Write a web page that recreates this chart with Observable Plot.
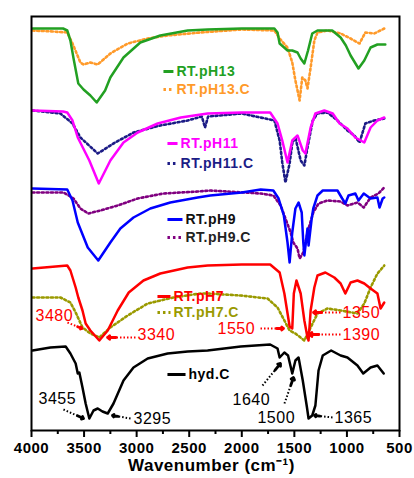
<!DOCTYPE html>
<html><head><meta charset="utf-8">
<script src="https://cdn.jsdelivr.net/npm/d3@7"></script>
<script src="https://cdn.jsdelivr.net/npm/@observablehq/plot@0.6"></script>
<style>body{margin:0;background:#fff} svg text{letter-spacing:0.5px}</style>
</head><body><div id="chart"></div><script>
// Spectra: [wavenumber (cm-1), signal (offset a.u.)]
const pH13 = [[3990,402],[3700,402],[3660,400],[3630,390],[3600,372],[3555,347],[3505,341],[3440,335],[3380,328],[3300,340],[3250,353],[3125,373],[2965,388],[2775,395],[2515,400],[2325,401],[2000,402],[1690,402],[1660,398],[1640,387],[1565,380],[1520,380],[1470,378],[1440,372],[1405,367],[1370,380],[1330,397],[1280,400],[1140,400],[1060,393],[1010,385],[965,375],[890,362],[835,370],[775,383],[710,386],[635,386]];
const pH13C = [[3990,400],[3800,399],[3660,398],[3610,387],[3535,368],[3505,366],[3440,368],[3370,366],[3250,377],[3085,387],[2895,392],[2705,395],[2395,398],[2000,401],[1690,400],[1640,392],[1565,383],[1520,368],[1490,350],[1450,330],[1425,353],[1395,350],[1375,342],[1345,363],[1310,390],[1280,398],[1185,400],[1060,397],[965,392],[880,387],[825,398],[740,397],[645,402]];
const pH11 = [[3990,320],[3700,319],[3660,318],[3610,310],[3560,293],[3450,270],[3360,247],[3250,270],[3125,288],[2990,298],[2800,307],[2580,313],[2325,317],[2000,318],[1730,318],[1660,307],[1615,290],[1565,268],[1520,290],[1470,295],[1420,280],[1395,277],[1345,303],[1300,317],[1215,320],[1135,317],[1070,307],[995,302],[920,293],[835,288],[775,303],[710,310],[645,313]];
const pH11C = [[3990,320],[3725,317],[3610,307],[3535,293],[3370,277],[3220,287],[3030,298],[2775,305],[2515,310],[2380,314],[2350,303],[2320,314],[2000,317],[1690,310],[1640,290],[1615,268],[1585,248],[1545,267],[1520,287],[1490,293],[1440,270],[1405,265],[1375,283],[1325,310],[1280,317],[1185,318],[1090,310],[995,300],[930,295],[880,288],[825,307],[740,310],[645,312]];
const pH9 = [[3990,242],[3660,241],[3610,230],[3560,208],[3465,183],[3365,170],[3250,188],[3155,202],[3030,213],[2870,222],[2680,228],[2420,233],[2300,235],[2000,238],[1820,241],[1700,240],[1650,232],[1600,215],[1565,188],[1545,168],[1520,198],[1490,222],[1460,228],[1430,218],[1415,188],[1405,175],[1375,202],[1365,185],[1335,212],[1320,222],[1280,235],[1230,240],[1090,240],[1045,232],[1015,227],[985,235],[920,237],[890,230],[840,237],[775,232],[710,233],[690,223],[660,232],[645,233]];
const pH9C = [[3990,238],[3695,238],[3600,232],[3535,222],[3460,217],[3345,220],[3180,225],[2990,232],[2745,237],[2420,239],[2300,240],[1820,237],[1700,235],[1630,225],[1585,212],[1535,198],[1510,188],[1470,182],[1450,172],[1415,178],[1395,188],[1365,202],[1320,218],[1270,227],[1185,230],[1060,229],[995,225],[900,228],[840,223],[775,233],[700,237],[645,243]];
const pH7 = [[3990,162],[3660,165],[3630,160],[3580,143],[3555,133],[3515,120],[3485,107],[3440,100],[3355,90],[3275,100],[3180,120],[3075,138],[2935,150],[2775,157],[2515,163],[2325,165],[2000,166],[1730,166],[1640,158],[1595,137],[1545,104],[1520,102],[1505,137],[1480,150],[1440,137],[1405,110],[1375,93],[1365,90],[1345,120],[1310,143],[1280,155],[1205,158],[1120,153],[1060,147],[1015,137],[965,148],[900,150],[835,147],[775,142],[710,137],[680,122],[645,128]];
const pH7C = [[3990,133],[3725,133],[3630,128],[3580,118],[3515,103],[3440,97],[3355,93],[3250,103],[3085,115],[2895,127],[2650,133],[2395,137],[2325,137],[2010,135],[1755,132],[1660,123],[1595,110],[1545,100],[1490,97],[1405,90],[1345,103],[1280,117],[1185,122],[1060,120],[900,117],[835,127],[775,143],[710,157],[645,165]];
const hydC = [[3990,80],[3820,83],[3675,84],[3630,77],[3580,67],[3560,57],[3545,58],[3515,43],[3485,27],[3450,12],[3410,20],[3370,22],[3325,19],[3275,17],[3220,27],[3125,50],[3030,63],[2895,72],[2705,77],[2515,79],[2325,80],[2010,84],[1730,86],[1660,82],[1640,73],[1595,78],[1560,75],[1520,57],[1490,70],[1460,73],[1420,50],[1380,23],[1365,12],[1330,15],[1300,25],[1270,60],[1230,75],[1150,80],[1060,75],[995,73],[900,65],[845,57],[775,63],[710,65],[650,57]];

// Series styling info
const seriesData = [pH13C, pH13, pH11C, pH11, pH9C, pH9, pH7C, pH7, hydC];
const seriesNames = ["RT.pH13.C","RT.pH13","RT.pH11.C","RT.pH11","RT.pH9.C","RT.pH9","RT.pH7.C","RT.pH7","hyd.C"];
const seriesColors = ["#ff9a2a","#22a022","#1c1c86","#ff00ff","#800080","#0000ff","#9a9a00","#ff0000","#000000"];
const seriesDotted = [true,false,true,false,true,false,true,false,false];
const legendTextColors = ["#ff9a2a","#22a022","#1c1c86","#ff00ff","#222222","#111111","#9a9a00","#ff0000","#000000"];
// legend positions: [wn start, wn end, signal]
const legendPos = [[2745,2650,341],[2745,2650,359],[2707,2611,267],[2707,2611,287],[2707,2564,193],[2707,2564,211],[2802,2678,118],[2802,2678,134],[2707,2535,56]];

// Peak annotations: label, text anchor [wn, signal], arrow from [wn, signal] to [wn, signal], color
const annLabels = ["3480","3340","1550","1350","1390","3455","3295","1640","1500","1365"];
const annText = [[3962,115],[2992,96],[2231,102],[1042,118],[1042,96],[3933,32],[3030,12],[2088,31],[1851,13],[1118,13]];
const annFrom = [[3658,108],[3011,93],[1822,102],[1061,118],[1061,96],[3696,21],[3058,12],[1803,45],[1594,27],[1137,13]];
const annTo = [[3520,102],[3277,93],[1603,102],[1318,118],[1356,96],[3505,12],[3230,15],[1632,67],[1508,53],[1308,15]];
const annColors = ["#ff0000","#ff0000","#ff0000","#ff0000","#ff0000","#000","#000","#000","#000","#000"];

const majorTicks = [4000,3500,3000,2500,2000,1500,1000,500];
const minorTicks = [3750,3250,2750,2250,1750,1250,750];

const font = "Liberation Sans, Arial, sans-serif";

const lineMarks = seriesData.map((d, i) => Plot.line(d, {
  x: p => p[0], y: p => p[1], stroke: seriesColors[i],
  strokeWidth: seriesDotted[i] ? 2.6 : 2.5,
  strokeDasharray: seriesDotted[i] ? "2,2.6" : null,
  strokeLinejoin: "round"
}));

const legend = seriesNames.map((n, i) => ({
  name: n, color: seriesColors[i], tcolor: legendTextColors[i], dotted: seriesDotted[i],
  x1: legendPos[i][0], x2: legendPos[i][1], y: legendPos[i][2]
}));

const ann = annLabels.map((l, i) => {
  const [fx, fy] = annFrom[i], [tx, ty] = annTo[i];
  return {label: l, tx: annText[i][0], ty: annText[i][1], fx, fy, ex: tx, ey: ty,
    hx: tx + (fx - tx) * 0.3, hy: ty + (fy - ty) * 0.3, color: annColors[i]};
});

const chart = Plot.plot({
  width: 414, height: 478,
  marginTop: 16, marginBottom: 48, marginLeft: 31, marginRight: 15,
  style: {fontFamily: font, background: "#fff", overflow: "visible"},
  x: {domain: [4000, 500], axis: null},
  y: {domain: [0, 414], axis: null},
  marks: [
    ...lineMarks,
    // legend
    Plot.link(legend.filter(d => !d.dotted), {x1: "x1", x2: "x2", y1: "y", y2: "y", stroke: "color", strokeWidth: 3}),
    Plot.link(legend.filter(d => d.dotted), {x1: "x1", x2: "x2", y1: "y", y2: "y", stroke: "color", strokeWidth: 3, strokeDasharray: "2.5,3"}),
    Plot.text(legend, {x: "x2", y: "y", text: "name", fill: "tcolor", textAnchor: "start", dx: 3, fontSize: 14, fontWeight: "bold"}),
    // annotations
    Plot.link(ann, {x1: "fx", y1: "fy", x2: "hx", y2: "hy", stroke: "color", strokeWidth: 2, strokeDasharray: "1.5,2"}),
    Plot.arrow(ann, {x1: "hx", y1: "hy", x2: "ex", y2: "ey", stroke: "color", strokeWidth: 2.8, headLength: 6, headAngle: 80}),
    Plot.text(ann, {x: "tx", y: "ty", text: "label", fill: "color", textAnchor: "start", fontSize: 16}),
    // axis
    Plot.axisX(majorTicks, {anchor: "bottom", tickSize: 7, tickPadding: 5, strokeWidth: 2, fontSize: 15, fontWeight: "bold", tickFormat: d => String(d), label: null, color: "#000"}),
    Plot.axisX(minorTicks, {anchor: "bottom", tickSize: 4, strokeWidth: 2, tickFormat: () => "", label: null}),
    Plot.frame({stroke: "#000", strokeWidth: 2}),
    Plot.text(["Wavenumber (cm\u207B\u00B9)"], {frameAnchor: "bottom", dy: 40, dx: -4, fontSize: 17, fontWeight: "bold", fill: "#000"})
  ]
});
document.getElementById("chart").appendChild(chart);
</script></body></html>
